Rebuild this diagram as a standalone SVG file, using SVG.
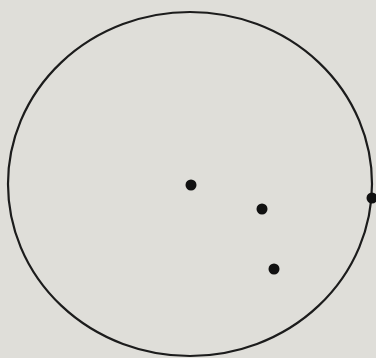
<svg xmlns="http://www.w3.org/2000/svg" width="376" height="358" viewBox="0 0 376 358">
<style>
.c{fill:none;stroke:#1c1c1c;stroke-width:2.2}
.d{fill:#111}
</style>
<rect width="376" height="358" fill="#dfded9"/>
<g id="circle"><ellipse class="c" cx="190" cy="184" rx="182" ry="172"/></g>
<g id="dot1"><circle class="d" cx="191" cy="185" r="5.5"/></g>
<g id="dot2"><circle class="d" cx="262" cy="209" r="5.5"/></g>
<g id="dot3"><circle class="d" cx="372" cy="198" r="5.5"/></g>
<g id="dot4"><circle class="d" cx="274" cy="269" r="5.5"/></g>
</svg>
